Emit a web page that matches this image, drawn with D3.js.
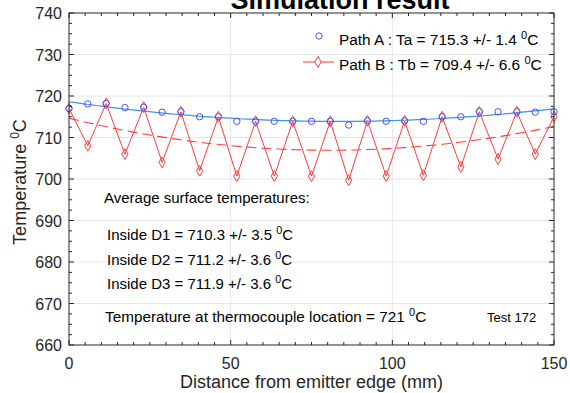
<!DOCTYPE html>
<html>
<head>
<meta charset="utf-8">
<script src="https://cdn.jsdelivr.net/npm/d3@7"></script>
<style>
  body { margin: 0; background: #fff; }
  svg { font-family: "Liberation Sans", Arial, sans-serif; display: block; }
</style>
</head>
<body>
<div id="chart"></div>
<script>
// distance from emitter edge (mm)
const distance = [0, 5.8, 11.5, 17.3, 23.1, 28.8, 34.6, 40.4, 46.2, 51.9, 57.7, 63.5, 69.2, 75.0,
  80.8, 86.5, 92.3, 98.1, 103.8, 109.6, 115.4, 121.2, 126.9, 132.7, 138.5, 144.2, 150];
// Path A temperatures
const pathA = [717.0, 718.1, 718.2, 717.2, 717.3, 716.1, 716.2, 715.0, 715.0, 713.9, 713.9, 713.9, 713.9, 713.9,
  713.9, 713.0, 714.0, 713.9, 714.0, 713.9, 715.0, 715.0, 716.2, 716.2, 716.2, 716.1, 716.2];
// Path B temperatures
const pathB = [717.0, 708.0, 718.2, 706.0, 717.3, 704.0, 716.2, 702.0, 715.0, 700.7, 713.9, 700.7, 713.9, 700.7,
  713.9, 699.7, 714.0, 700.7, 714.0, 700.9, 715.0, 702.9, 716.2, 704.8, 716.2, 706.0, 715.0];

const xTicks = [0, 50, 100, 150];
const yTicks = [660, 670, 680, 690, 700, 710, 720, 730, 740];

const legendLabels = ["Path A : Ta = 715.3 +/- 1.4 ", "Path B : Tb = 709.4 +/- 6.6 "];
const notes = ["Inside D1 = 710.3 +/- 3.5 ", "Inside D2 = 711.2 +/- 3.6 ", "Inside D3 = 711.9 +/- 3.6 "];

const W = 570, H = 393;
const margin = { top: 13, right: 16, bottom: 48, left: 69 };
const width = W - margin.left - margin.right;
const height = H - margin.top - margin.bottom;

const axisColor = "#262626";
const blue = "#4d4dff";
const fitBlue = "#3d95dc";
const red = "#ff3b3b";

const svg = d3.select("#chart").append("svg")
  .attr("width", W).attr("height", H);

const g = svg.append("g").attr("transform", `translate(${margin.left},${margin.top})`);

const x = d3.scaleLinear().domain([0, 150]).range([0, width]);
const y = d3.scaleLinear().domain([660, 740]).range([height, 0]);

// grid
g.append("g").selectAll("line").data(xTicks.slice(1, -1)).enter().append("line")
  .attr("x1", d => x(d)).attr("x2", d => x(d)).attr("y1", 0).attr("y2", height)
  .attr("stroke", "#e6e6e6");
g.append("g").selectAll("line").data(yTicks.slice(1, -1)).enter().append("line")
  .attr("y1", d => y(d)).attr("y2", d => y(d)).attr("x1", 0).attr("x2", width)
  .attr("stroke", "#e6e6e6");

// quadratic least-squares fit
function quadFit(xs, ys) {
  let s = [0, 0, 0, 0, 0], t = [0, 0, 0];
  xs.forEach((xv, i) => {
    let p = 1;
    for (let k = 0; k < 5; k++) { s[k] += p; if (k < 3) t[k] += p * ys[i]; p *= xv; }
  });
  const A = [[s[0], s[1], s[2], t[0]], [s[1], s[2], s[3], t[1]], [s[2], s[3], s[4], t[2]]];
  for (let i = 0; i < 3; i++) {
    for (let j = i + 1; j < 3; j++) {
      const f = A[j][i] / A[i][i];
      for (let k = i; k < 4; k++) A[j][k] -= f * A[i][k];
    }
  }
  const c = [0, 0, 0];
  for (let i = 2; i >= 0; i--) {
    let v = A[i][3];
    for (let k = i + 1; k < 3; k++) v -= A[i][k] * c[k];
    c[i] = v / A[i][i];
  }
  return xv => c[0] + c[1] * xv + c[2] * xv * xv;
}

const fitA = quadFit(distance, pathA);
const fitB = quadFit(distance, pathB);
const xs = d3.range(0, 150.01, 1.5);

const line = d3.line().x(d => x(d[0])).y(d => y(d[1]));

// Path B data line
g.append("path")
  .datum(distance.map((d, i) => [d, pathB[i]]))
  .attr("fill", "none").attr("stroke", red).attr("stroke-width", 1)
  .attr("d", line);

// fits
g.append("path")
  .datum(xs.map(d => [d, fitB(d)]))
  .attr("fill", "none").attr("stroke", red).attr("stroke-width", 1.1)
  .attr("stroke-dasharray", "10,5")
  .attr("d", line);

g.append("path")
  .datum(xs.map(d => [d, fitA(d)]))
  .attr("fill", "none").attr("stroke", fitBlue).attr("stroke-width", 1.2)
  .attr("d", line);

// markers
const diamond = d3.symbol().type(d3.symbolDiamond).size(34);
g.append("g").selectAll("path").data(pathB).enter().append("path")
  .attr("d", diamond)
  .attr("transform", (d, i) => `translate(${x(distance[i])},${y(d)})`)
  .attr("fill", "none").attr("stroke", red).attr("stroke-width", 1);

g.append("g").selectAll("circle").data(pathA).enter().append("circle")
  .attr("cx", (d, i) => x(distance[i])).attr("cy", d => y(d))
  .attr("r", 3.2)
  .attr("fill", "none").attr("stroke", blue).attr("stroke-width", 1);

// box + axes
g.append("rect").attr("width", width).attr("height", height)
  .attr("fill", "none").attr("stroke", axisColor).attr("stroke-width", 1);

const xMinor = d3.range(0, 150.1, 5);
const yMinor = d3.range(660, 740.1, 2.5);

const tickG = g.append("g").attr("stroke", axisColor).attr("stroke-width", 1);
xMinor.forEach(v => {
  const len = xTicks.includes(v) ? 5 : 3;
  tickG.append("line").attr("x1", x(v)).attr("x2", x(v)).attr("y1", height).attr("y2", height - len);
  tickG.append("line").attr("x1", x(v)).attr("x2", x(v)).attr("y1", 0).attr("y2", len);
});
yMinor.forEach(v => {
  const len = yTicks.includes(v) ? 5 : 3;
  tickG.append("line").attr("y1", y(v)).attr("y2", y(v)).attr("x1", 0).attr("x2", len);
  tickG.append("line").attr("y1", y(v)).attr("y2", y(v)).attr("x1", width).attr("x2", width - len);
});

// tick labels
g.append("g").selectAll("text").data(xTicks).enter().append("text")
  .attr("x", d => x(d)).attr("y", height + 24)
  .attr("text-anchor", "middle").attr("font-size", 16).attr("fill", axisColor)
  .text(d => d);
g.append("g").selectAll("text").data(yTicks).enter().append("text")
  .attr("x", -7).attr("y", d => y(d) + 6)
  .attr("text-anchor", "end").attr("font-size", 16).attr("fill", axisColor)
  .text(d => d);

// axis labels
g.append("text")
  .attr("x", width / 2).attr("y", height + 43)
  .attr("text-anchor", "middle").attr("font-size", 18).attr("fill", axisColor)
  .text("Distance from emitter edge (mm)");

const yl = svg.append("text")
  .attr("transform", `translate(26,${margin.top + height / 2 + 3}) rotate(-90)`)
  .attr("text-anchor", "middle").attr("font-size", 18).attr("fill", axisColor);
yl.append("tspan").text("Temperature ");
yl.append("tspan").attr("font-size", 12).attr("dy", -7).text("0");
yl.append("tspan").attr("dy", 7).text("C");

// title, cropped at the top as in the source figure
svg.append("text")
  .attr("x", 340).attr("y", 9)
  .attr("text-anchor", "middle").attr("font-size", 27).attr("font-weight", "bold").attr("fill", "#000")
  .text("Simulation result");

// text with superscript degree
function supText(parent, xp, yp, label, size) {
  const t = parent.append("text").attr("x", xp).attr("y", yp)
    .attr("font-size", size).attr("fill", "#000");
  t.append("tspan").text(label);
  t.append("tspan").attr("font-size", size * 0.72).attr("dy", -size * 0.42).text("0");
  t.append("tspan").attr("dy", size * 0.42).text("C");
  return t;
}

// legend
const lg = svg.append("g");
lg.append("circle").attr("cx", 319).attr("cy", 36).attr("r", 3.2)
  .attr("fill", "none").attr("stroke", blue);
lg.append("line").attr("x1", 303).attr("x2", 334).attr("y1", 62).attr("y2", 62)
  .attr("stroke", red);
lg.append("path").attr("d", diamond).attr("transform", "translate(318,62)")
  .attr("fill", "#fff").attr("stroke", red);
legendLabels.forEach((l, i) => supText(lg, 339, 45 + i * 25, l, 15.4));

// annotations
svg.append("text").attr("x", 104).attr("y", 203).attr("font-size", 15).attr("fill", "#000")
  .text("Average surface temperatures:");
notes.forEach((n, i) => supText(svg, 107, [240, 265, 289][i], n, 15));
supText(svg, 105, 322, "Temperature at thermocouple location = 721 ", 15.3);
svg.append("text").attr("x", 487).attr("y", 322).attr("font-size", 13).attr("fill", "#000")
  .text("Test 172");
</script>
</body>
</html>
